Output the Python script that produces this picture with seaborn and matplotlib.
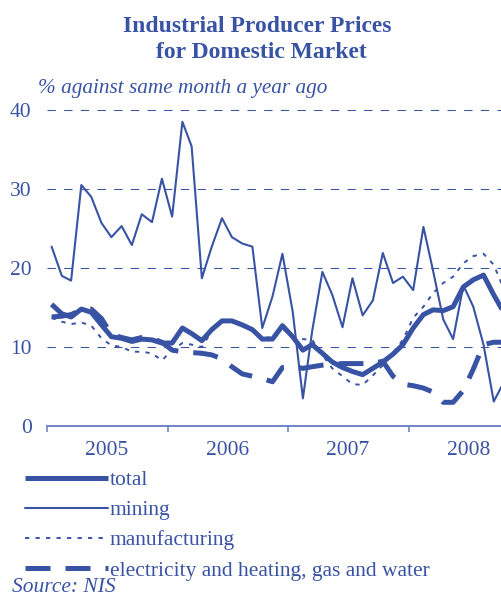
import pandas as pd
import matplotlib.pyplot as plt
import seaborn as sns

# monthly values, Jan 2005 .. Oct 2008 (% against same month a year ago)
months = pd.date_range("2005-01-01", periods=46, freq="MS") + pd.Timedelta(days=14)

total = [15.4, 14.2, 13.8, 14.8, 14.4, 12.8, 11.3, 11.1, 10.7, 11.0, 10.9, 10.5,
         10.5, 12.4, 11.7, 10.8, 12.2, 13.3, 13.3, 12.8, 12.2, 11.0, 11.0, 12.7,
         11.3, 9.6, 10.3, 9.2, 8.1, 7.4, 6.9, 6.5, 7.3, 8.1, 9.1, 10.3,
         12.4, 14.1, 14.7, 14.6, 15.1, 17.6, 18.5, 19.1, 16.6, 14.4]
mining = [22.7, 19.0, 18.4, 30.5, 29.0, 25.7, 23.9, 25.3, 22.9, 26.8, 25.8, 31.3,
          26.5, 38.5, 35.4, 18.7, 22.7, 26.3, 23.9, 23.1, 22.7, 12.4, 16.4, 21.8,
          14.5, 3.5, 12.0, 19.5, 16.6, 12.5, 18.7, 14.0, 15.9, 21.9, 18.1, 18.9,
          17.2, 25.2, 19.7, 13.5, 11.0, 17.8, 15.1, 10.3, 3.1, 5.5]
manufacturing = [13.7, 13.2, 12.9, 13.1, 12.7, 11.1, 10.2, 10.0, 9.4, 9.4, 9.2, 8.3,
                 9.6, 10.5, 10.3, 10.0, 12.0, 13.2, 13.3, 12.8, 12.0, 11.2, 11.2, 12.3,
                 11.3, 11.0, 10.9, 9.0, 7.3, 6.3, 5.3, 5.2, 6.4, 7.7, 9.3, 10.9,
                 13.7, 15.1, 16.8, 18.1, 18.9, 20.6, 21.5, 21.8, 20.4, 17.4]
electricity = [13.8, 13.9, 14.1, 14.7, 14.8, 13.6, 11.6, 11.2, 10.9, 11.2, 11.1, 10.6,
               9.6, 9.4, 9.3, 9.2, 9.0, 8.5, 7.5, 6.6, 6.3, 6.0, 5.6, 7.4,
               7.5, 7.3, 7.5, 7.7, 7.8, 7.9, 7.9, 7.9, 7.9, 8.2, 6.3, 5.3,
               5.1, 4.8, 4.3, 3.0, 3.0, 4.5, 7.2, 10.3, 10.6, 10.6]

years = ["2005", "2006", "2007", "2008"]
labels = ["total", "mining", "manufacturing", "electricity and heating, gas and water"]

df = pd.DataFrame({"month": months, "total": total, "mining": mining,
                   "manufacturing": manufacturing, "electricity": electricity})

blue = "#3953a4"
light = "#7086c6"

sns.set_theme(style="white")
plt.rcParams["font.family"] = ["Liberation Serif", "DejaVu Serif"]

fig = plt.figure(figsize=(5.02, 5.95), dpi=100)
ax = fig.add_axes([47 / 502, (595 - 426) / 595, 455 / 502, 320 / 595])

sns.lineplot(data=df, x="month", y="total", ax=ax, color=blue, lw=3.6,
             label=labels[0], solid_capstyle="butt")
sns.lineplot(data=df, x="month", y="mining", ax=ax, color=blue, lw=1.5,
             label=labels[1])
sns.lineplot(data=df, x="month", y="manufacturing", ax=ax, color=blue, lw=1.4,
             ls=(0, (2.2, 3.2)), label=labels[2])
sns.lineplot(data=df, x="month", y="electricity", ax=ax, color=blue, lw=3.6,
             ls=(0, (5, 3)), label=labels[3], dash_capstyle="butt")

ax.set_xlim(pd.Timestamp("2005-01-01"), pd.Timestamp("2008-10-10"))
ax.set_ylim(0, 40.5)
ax.set_xlabel("")
ax.set_ylabel("")

# y axis
ax.set_yticks([0, 10, 20, 30, 40])
ax.tick_params(axis="y", length=0, pad=11, labelsize=15.5, labelcolor=blue)
ax.yaxis.grid(True, color=blue, lw=0.75, ls=(0, (8, 8)))
ax.xaxis.grid(False)

# x axis: year boundaries as ticks, year names centred
ax.set_xticks([pd.Timestamp(f"{y}-01-01") for y in years])
ax.set_xticklabels([])
ax.set_xticks([pd.Timestamp(f"{y}-07-01") for y in years], minor=True)
ax.set_xticklabels(years, minor=True)
ax.tick_params(axis="x", which="major", direction="out", length=4.5, width=1.2,
               color=light, bottom=True)
ax.tick_params(axis="x", which="minor", length=0, pad=11, labelsize=15.5,
               labelcolor=blue)

for s in ["top", "right", "left"]:
    ax.spines[s].set_visible(False)
ax.spines["bottom"].set_color(light)
ax.spines["bottom"].set_linewidth(1.4)

handles, labs = ax.get_legend_handles_labels()
ax.get_legend().remove()
fig.legend(handles, labs, loc="upper left", bbox_to_anchor=(25 / 502, 1 - 470 / 595),
           frameon=False, handlelength=3.86, handletextpad=0.08, labelspacing=0.47,
           borderpad=0, borderaxespad=0, fontsize=15.5, labelcolor=blue)

fig.text(257 / 502, 1 - 27 / 595, "Industrial Producer Prices", ha="center",
         va="center", fontsize=17, fontweight="bold", color=blue)
fig.text(261 / 502, 1 - 53 / 595, "for Domestic Market", ha="center",
         va="center", fontsize=17, fontweight="bold", color=blue)
fig.text(38 / 502, 1 - 89 / 595, "% against same month a year ago", ha="left",
         va="center", fontsize=15.3, style="italic", color=blue)
fig.text(12 / 502, 1 - 587 / 595, "Source: NIS", ha="left", va="center",
         fontsize=15.5, style="italic", color=blue)

fig.savefig("out.png", dpi=100)
